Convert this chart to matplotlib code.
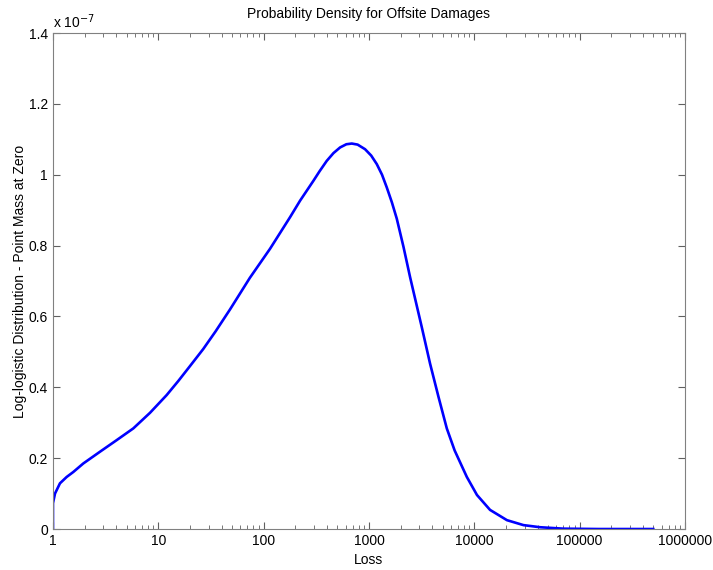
import matplotlib.pyplot as plt
from matplotlib.ticker import FixedLocator, FixedFormatter, LogLocator, NullFormatter

plt.rcParams['font.family'] = ['Liberation Sans', 'DejaVu Sans']

# loss values, density in units of 1e-7
loss = [1.0, 1.0, 1.045, 1.165, 1.35, 1.56, 1.94, 2.79, 4.03, 5.79, 8.34, 12.0,
        15.5, 20, 26.7, 35, 48, 74, 115, 178, 222, 297, 340, 397, 460, 532, 610,
        687, 780, 918, 1050, 1186, 1330, 1476, 1650, 1836, 2124, 2456, 2640, 3170,
        3800, 4570, 5480, 6500, 8490, 10600, 14100, 20400, 29300, 42200, 70000,
        150000, 500000]
density = [0.0, 0.073, 0.10, 0.129, 0.147, 0.161, 0.185, 0.218, 0.251, 0.284,
           0.328, 0.378, 0.418, 0.460, 0.508, 0.558, 0.620, 0.709, 0.791, 0.880,
           0.927, 0.983, 1.010, 1.039, 1.061, 1.077, 1.086, 1.088, 1.085, 1.072,
           1.054, 1.030, 1.000, 0.964, 0.922, 0.876, 0.797, 0.711, 0.671, 0.570,
           0.467, 0.373, 0.284, 0.222, 0.147, 0.096, 0.054, 0.025, 0.011, 0.005,
           0.001, 0.0, 0.0]

xticks = [1, 10, 100, 1000, 10000, 100000, 1000000]
xticklabels = ['1', '10', '100', '1000', '10000', '100000', '1000000']
yticks = [0, 0.2, 0.4, 0.6, 0.8, 1.0, 1.2, 1.4]
yticklabels = ['0', '0.2', '0.4', '0.6', '0.8', '1', '1.2', '1.4']

fig = plt.figure(figsize=(7.13, 5.70), dpi=100)
ax = fig.add_axes([0.0743, 0.0719, 0.8864, 0.8702])

ax.plot(loss, density, color=(0, 0, 1), linewidth=1.9, solid_joinstyle='round')

ax.set_xscale('log')
ax.set_xlim(1, 1000000)
ax.set_ylim(0, 1.4)
ax.xaxis.set_major_locator(FixedLocator(xticks))
ax.xaxis.set_major_formatter(FixedFormatter(xticklabels))
ax.xaxis.set_minor_locator(LogLocator(base=10, subs=range(2, 10)))
ax.xaxis.set_minor_formatter(NullFormatter())
ax.set_yticks(yticks)
ax.set_yticklabels(yticklabels)

for s in ax.spines.values():
    s.set_color('#808080')
    s.set_linewidth(0.8)
ax.tick_params(which='both', direction='in', top=True, right=True,
               colors='#606060', labelcolor='black', labelsize=10)
ax.tick_params(which='major', length=5)
ax.tick_params(which='minor', length=3)

ax.set_title('Probability Density for Offsite Damages', fontsize=10, pad=11)
ax.set_xlabel('Loss', fontsize=10, labelpad=4)
ax.set_ylabel('Log-logistic Distribution - Point Mass at Zero', fontsize=10, labelpad=1)
ax.text(0.0, 1.005, r'x 10$^{-7}$', transform=ax.transAxes, fontsize=10,
        ha='left', va='bottom')

fig.savefig('out.png', dpi=100)
